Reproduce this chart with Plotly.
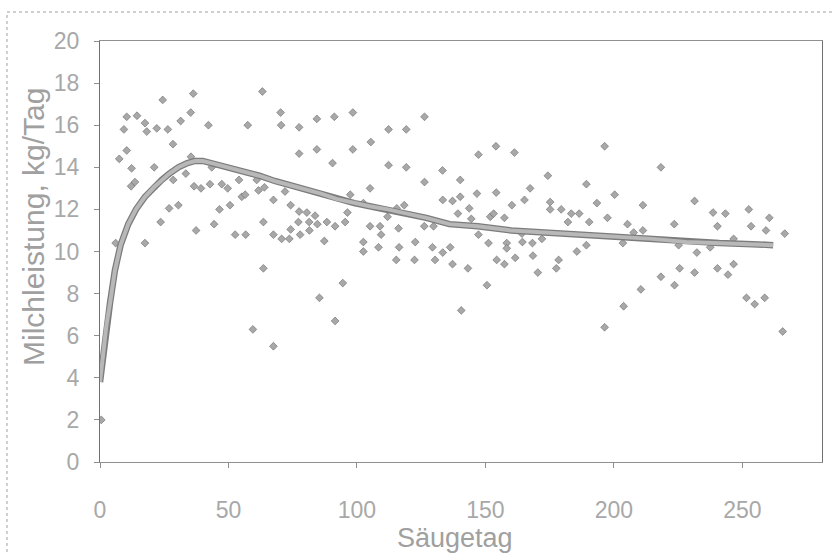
import plotly.graph_objects as go

# Scatter observations (Säugetag, Milchleistung kg/Tag)
day = [0.5, 6.1, 7.5, 9.3, 10.4, 10.4, 12.1, 12.3, 13.6, 14.4, 17.5, 17.5, 18.2, 21.1, 22.1, 23.6,
       24.4, 26.4, 26.9, 28.4, 28.5, 30.5, 31.4, 33.4, 35.3, 35.4, 36.3, 36.6, 37.4, 39.3, 42.2, 42.8,
       43.5, 44.4, 46.5, 47.4, 49.7, 50.6, 52.6, 54.1, 55.2, 56.5, 56.7, 57.5, 59.5, 61.0, 61.7, 63.2,
       63.6, 63.6, 64.0, 67.5, 67.5, 67.5,
       70.3, 70.5, 70.7, 72.0, 73.7, 74.2, 74.2, 77.2, 77.5, 77.5, 77.5, 77.9, 80.5, 81.4, 81.5, 83.7,
       84.4, 84.4, 84.6, 85.4, 87.3, 88.3, 90.5, 91.2, 91.5, 91.5, 94.5, 95.4, 96.3, 97.4, 98.4, 98.4,
       102.5, 102.5, 102.5, 105.1, 105.1, 105.4, 108.4, 109.0, 109.4, 111.9, 112.3, 112.3, 115.3, 115.5,
       116.2, 116.4, 118.4, 119.2, 119.2, 122.4, 122.7, 126.2, 126.3, 126.3, 129.4, 129.8, 130.4, 133.3,
       133.4, 133.4,
       136.3, 137.2, 137.2, 139.3, 140.2, 140.2, 140.6, 143.2, 143.7, 144.5, 146.7, 147.3, 147.3, 150.6,
       151.2, 151.9, 153.2, 154.1, 154.2, 154.4, 157.4, 157.4, 158.3, 158.3, 160.3, 161.3, 161.6, 164.2,
       164.4, 165.2, 167.4, 168.3, 168.5, 170.4, 172.0, 174.3, 175.2, 175.2, 177.6, 178.5, 179.5, 182.1,
       183.4, 185.6, 186.5, 189.3, 189.3, 190.4, 193.4, 196.4, 196.4, 197.5, 200.3, 203.5, 203.8,
       205.3, 207.7, 210.5, 211.3, 211.3, 218.3, 218.3, 223.5, 223.6, 225.2, 225.6, 231.4, 231.4, 232.3,
       237.5, 238.6, 240.3, 240.3, 243.4, 244.4, 246.6, 246.6, 251.6, 252.5, 253.4, 254.8, 258.7, 259.2,
       260.5, 265.7, 266.5]
milk = [2.0, 10.4, 14.4, 15.8, 16.4, 14.8, 13.1, 13.95, 13.3, 16.45, 16.1, 10.4, 15.7, 14.0, 15.85, 11.4,
        17.2, 15.8, 12.05, 15.1, 13.4, 12.2, 16.2, 13.7, 16.6, 14.5, 17.5, 13.1, 11.0, 13.0, 16.0, 13.2,
        14.0, 11.3, 12.0, 13.2, 13.0, 12.2, 10.8, 13.4, 12.6, 12.7, 10.8, 16.0, 6.3, 13.4, 12.9, 17.6,
        11.4, 9.2, 13.05, 12.45, 10.8, 5.5,
        16.6, 16.0, 10.6, 12.85, 10.6, 12.2, 11.05, 11.4, 15.9, 14.65, 11.9, 10.8, 11.85, 11.4, 11.0, 11.7,
        16.3, 14.85, 11.3, 7.8, 10.5, 11.4, 14.2, 16.4, 11.2, 6.7, 8.5, 11.4, 11.85, 12.7, 16.6, 14.85,
        12.3, 10.45, 10.0, 13.0, 11.2, 15.2, 10.2, 11.2, 10.8, 11.65, 15.8, 14.1, 9.6, 12.05,
        11.1, 10.2, 12.2, 15.8, 14.0, 9.6, 10.45, 11.2, 16.4, 13.3, 10.2, 11.2, 9.6, 13.85,
        12.45, 9.95,
        10.2, 12.4, 9.4, 11.8, 13.4, 12.6, 7.2, 9.2, 12.05, 11.55, 12.75, 14.6, 10.8, 8.4,
        10.4, 11.65, 11.8, 15.0, 12.8, 9.6, 11.6, 9.4, 10.4, 10.15, 12.2, 14.7, 9.7, 10.85,
        10.45, 12.45, 13.0, 10.4, 9.8, 9.0, 10.6, 13.6, 12.35, 12.0, 9.2, 9.6, 12.0, 11.4,
        11.8, 10.0, 11.8, 13.2, 10.3, 11.4, 12.3, 15.0, 6.4, 11.6, 12.7, 10.4, 7.4,
        11.3, 10.9, 8.2, 12.2, 11.0, 14.0, 8.8, 11.3, 8.4, 10.3, 9.2, 12.4, 9.0, 9.95,
        10.2, 11.85, 11.2, 9.2, 11.8, 8.9, 10.6, 9.4, 7.8, 12.0, 11.2, 7.5, 7.8, 11.0,
        11.6, 6.2, 10.85]

# Fitted lactation curve
fit_day = [0, 1.3, 2.5, 3.9, 5.8, 8, 11, 14, 17.5, 21, 24, 27, 30.5, 34, 37, 40, 43.5, 50, 56.5, 62,
           68, 74, 79, 86, 92, 99, 105, 112, 118, 127, 136, 147, 160, 173, 186, 204, 215, 228, 241,
           254, 262]
fit_milk = [3.8, 5.2, 6.5, 7.55, 9.1, 10.3, 11.3, 12.0, 12.6, 13.05, 13.4, 13.7, 14.0, 14.2, 14.3,
            14.3, 14.2, 14.0, 13.8, 13.6, 13.35, 13.15, 13.0, 12.75, 12.5, 12.3, 12.15, 12.0, 11.85,
            11.6, 11.3, 11.2, 11.0, 10.9, 10.8, 10.65, 10.6, 10.45, 10.4, 10.35, 10.3]

x_ticks = [0, 50, 100, 150, 200, 250]
y_ticks = [0, 2, 4, 6, 8, 10, 12, 14, 16, 18, 20]

fig = go.Figure()
fig.add_trace(go.Scatter(x=day, y=milk, mode="markers",
                         marker=dict(symbol="diamond", size=6, color="#a8a8a8",
                                     line=dict(width=0.6, color="#6a6a6a")),
                         showlegend=False))
fig.add_trace(go.Scatter(x=fit_day, y=fit_milk, mode="lines",
                         line=dict(color="#7c7c7c", width=6.5), showlegend=False))
fig.add_trace(go.Scatter(x=fit_day, y=fit_milk, mode="lines",
                         line=dict(color="#b8b8b8", width=4), showlegend=False))

tickfont = dict(family="Liberation Sans, Arial, sans-serif", size=23, color="#a8a8a8")

fig.update_xaxes(range=[0, 281], tickvals=x_ticks, ticktext=[str(v) for v in x_ticks],
                 showgrid=False, zeroline=False, showline=True, linecolor="#909090", linewidth=1,
                 mirror=True, ticks="outside", ticklen=5, tickcolor="#909090",
                 tickfont=tickfont, ticklabelstandoff=22, automargin=False)
fig.update_yaxes(range=[0, 20], tickvals=y_ticks, ticktext=[str(v) for v in y_ticks],
                 showgrid=False, zeroline=False, showline=True, linecolor="#707070", linewidth=1,
                 mirror=True, ticks="outside", ticklen=5, tickcolor="#909090",
                 tickfont=tickfont, ticklabelstandoff=10, automargin=False)

W, H = 834, 555
L, R, T, B = 100, 12, 41, 93
pw, ph = W - L - R, H - T - B

def px(xp):
    return (xp - L) / pw

def py(yp):
    return (H - B - yp) / ph

fig.add_shape(type="rect", xref="paper", yref="paper",
              x0=px(7), x1=px(845), y0=py(565), y1=py(12),
              line=dict(color="#a0a0a0", width=1, dash="dot"))

fig.add_annotation(text="Milchleistung, kg/Tag", xref="paper", yref="paper",
                   x=px(33), y=py(227), textangle=-90, showarrow=False,
                   font=dict(family="Liberation Sans, Arial, sans-serif", size=30, color="#a0a0a0"),
                   xanchor="center", yanchor="middle")
fig.add_annotation(text="Säugetag", xref="paper", yref="paper",
                   x=px(455), y=py(538), showarrow=False,
                   font=dict(family="Liberation Sans, Arial, sans-serif", size=27, color="#a0a0a0"),
                   xanchor="center", yanchor="middle")

fig.update_layout(width=W, height=H, margin=dict(l=L, r=R, t=T, b=B, autoexpand=False),
                  plot_bgcolor="white", paper_bgcolor="white")

fig.write_html("out.html", config={"displayModeBar": False},
               post_script="document.body.style.margin='0';document.body.style.overflow='hidden';")
